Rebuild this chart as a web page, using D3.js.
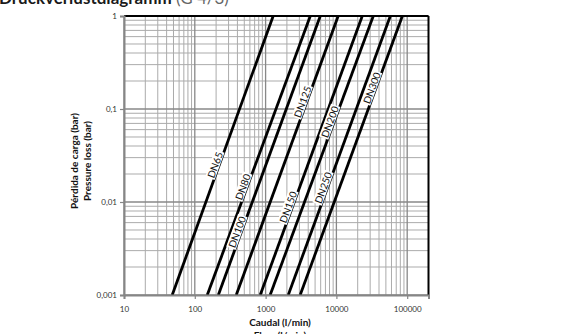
<!DOCTYPE html>
<html><head><meta charset="utf-8">
<script src="https://cdn.jsdelivr.net/npm/d3@7"></script>
<style>
body{margin:0;background:#fff;}
svg{display:block;font-family:Lato,'Liberation Sans',sans-serif;}
</style>
</head><body>
<svg id="c" width="562" height="334"></svg>
<script>
// ---- data ----
const diameters    = ["DN65","DN80","DN100","DN125","DN150","DN200","DN250","DN300"];
const flowAtLowLoss  = [48, 150, 215, 385, 840, 1160, 2090, 3080];        // l/min at 0,001 bar
const flowAtHighLoss = [1280, 4280, 5920, 10600, 23200, 33200, 57800, 85500]; // l/min at 1 bar
const lossEnds     = [0.001, 1];
const labelLoss    = [0.025, 0.0145, 0.00475, 0.119, 0.0088, 0.0725, 0.0142, 0.168];
const xTickValues  = [10, 100, 1000, 10000, 100000];
const xTickLabels  = ["10", "100", "1000", "10000", "100000"];
const yTickValues  = [0.001, 0.01, 0.1, 1];
const yTickLabels  = ["0,001", "0,01", "0,1", "1"];
const xDomain = [10, 200000];
const yDomain = [0.001, 1];

// ---- chart ----
const svg = d3.select("#c");
const x = d3.scaleLog().domain(xDomain).range([124, 428.5]);
const y = d3.scaleLog().domain(yDomain).range([295, 16]);
const [x0, x1] = x.range(), [y0, y1] = y.range();

// title (cut at top in the reference)
const title = svg.append("text").attr("x", -1).attr("y", 4).style("font-size", "17px");
title.append("tspan").attr("font-weight", "bold").attr("fill", "#1a1a1a").text("Druckverlustdiagramm");
title.append("tspan").attr("fill", "#666").attr("font-weight", "normal").text(" (G 4/3)");

// minor/major grid
const minorX = [], majorX = [];
for (let d = 10; d < 200000; d *= 10) {
  majorX.push(d);
  for (let k = 2; k <= 9; k++) if (d * k <= 200000) minorX.push(d * k);
}
const minorY = [], majorY = [];
for (let d = 0.001; d < 1; d *= 10) {
  majorY.push(d);
  for (let k = 2; k <= 9; k++) minorY.push(d * k);
}
majorY.push(1);

const grid = svg.append("g");
grid.selectAll(".mx").data(minorX).join("line")
  .attr("x1", d => x(d)).attr("x2", d => x(d)).attr("y1", y0).attr("y2", y1)
  .attr("stroke", "#ababab").attr("stroke-width", 1);
grid.selectAll(".my").data(minorY).join("line")
  .attr("y1", d => y(d)).attr("y2", d => y(d)).attr("x1", x0).attr("x2", x1)
  .attr("stroke", "#ababab").attr("stroke-width", 1);
grid.selectAll(".Mx").data(majorX).join("line")
  .attr("x1", d => x(d)).attr("x2", d => x(d)).attr("y1", y0).attr("y2", y1)
  .attr("stroke", "#888").attr("stroke-width", 1.3);
grid.selectAll(".My").data(majorY).join("line")
  .attr("y1", d => y(d)).attr("y2", d => y(d)).attr("x1", x0).attr("x2", x1)
  .attr("stroke", "#888").attr("stroke-width", 1.3);

// plot border (top/right black)
svg.append("line").attr("x1", x0).attr("x2", x1).attr("y1", y1).attr("y2", y1)
  .attr("stroke", "#000").attr("stroke-width", 2);
svg.append("line").attr("x1", x1).attr("x2", x1).attr("y1", y1).attr("y2", y0)
  .attr("stroke", "#000").attr("stroke-width", 2);

// data lines
const line = d3.line().x(d => x(d[0])).y(d => y(d[1]));
const series = diameters.map((name, i) => ({
  name,
  pts: [[flowAtLowLoss[i], lossEnds[0]], [flowAtHighLoss[i], lossEnds[1]]],
  labelLoss: labelLoss[i]
}));
svg.append("g").selectAll("path").data(series).join("path")
  .attr("d", d => line(d.pts))
  .attr("fill", "none").attr("stroke", "#000").attr("stroke-width", 2.8);

// axes
const xAxis = d3.axisBottom(x).tickValues(xTickValues)
  .tickFormat((d, i) => xTickLabels[i]).tickSize(4).tickPadding(7);
const yAxis = d3.axisLeft(y).tickValues(yTickValues)
  .tickFormat((d, i) => yTickLabels[i]).tickSize(4).tickPadding(3);
const gx = svg.append("g").attr("transform", `translate(0,${y0})`).call(xAxis);
const gy = svg.append("g").attr("transform", `translate(${x0},0)`).call(yAxis);
[gx, gy].forEach(g => {
  g.select(".domain").attr("stroke", "#868686").attr("stroke-width", 2);
  g.selectAll(".tick line").attr("stroke", "#868686").attr("stroke-width", 1.2);
  g.selectAll(".tick text").attr("fill", "#333").style("font-size", "8px")
    .style("font-family", "Lato,'Liberation Sans',sans-serif");
});

// line labels
const lbl = svg.append("g").selectAll("g").data(series).join("g")
  .attr("transform", d => {
    const [a, b] = d.pts;
    const ang = Math.atan2(y(b[1]) - y(a[1]), x(b[0]) - x(a[0])) * 180 / Math.PI;
    const t = (Math.log(d.labelLoss) - Math.log(a[1])) / (Math.log(b[1]) - Math.log(a[1]));
    const lx = x(a[0]) + (x(b[0]) - x(a[0])) * t;
    const ly = y(a[1]) + (y(b[1]) - y(a[1])) * t;
    return `translate(${lx - 4},${ly}) rotate(${ang})`;
  });
lbl.append("text").attr("text-anchor", "middle").attr("dy", "0.35em")
  .style("font-size", "10px").attr("fill", "#111").text(d => d.name)
  .each(function () {
    const bb = this.getBBox();
    d3.select(this.parentNode).insert("rect", "text")
      .attr("x", bb.x - 1).attr("y", bb.y + 1).attr("width", bb.width + 2).attr("height", bb.height - 2)
      .attr("fill", "#fff");
  });

// axis titles
svg.append("text").attr("x", 280).attr("y", 326).attr("text-anchor", "middle")
  .style("font-size", "10px").attr("font-weight", "bold").attr("fill", "#111").text("Caudal (l/min)");
svg.append("text").attr("x", 280).attr("y", 339).attr("text-anchor", "middle")
  .style("font-size", "10px").attr("font-weight", "bold").attr("fill", "#111").text("Flow (l/min)");
const yt = svg.append("g").attr("transform", "translate(0,161) rotate(-90)");
yt.append("text").attr("x", 0).attr("y", 78).attr("text-anchor", "middle")
  .style("font-size", "10px").attr("font-weight", "bold").attr("fill", "#111").text("Pérdida de carga (bar)");
yt.append("text").attr("x", 0).attr("y", 91).attr("text-anchor", "middle")
  .style("font-size", "10px").attr("font-weight", "bold").attr("fill", "#111").text("Pressure loss (bar)");
</script>
</body></html>
